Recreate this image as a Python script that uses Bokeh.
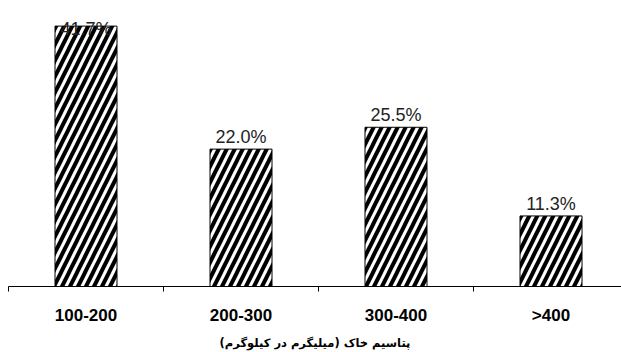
from bokeh.plotting import figure
from bokeh.models import Range1d, FixedTicker, ColumnDataSource
from bokeh.embed import file_html
from bokeh.resources import INLINE
from bokeh.core.properties import value

categories = ["100-200", "200-300", "300-400", ">400"]
percent = [41.7, 22.0, 25.5, 11.3]
label_text = ["41.7%", "22.0%", "25.5%", "11.3%"]
x_title = "پتاسیم خاک (میلیگرم در کیلوگرم)"

W, H = 621, 352
left, top = 8, 5
frame_h = 282
cat_px = 155.0
ymax = 45.0
ppu = frame_h / ymax

xs = list(range(len(categories)))
label_y = [min(v + 12 / ppu, 41.3) for v in percent]

src = ColumnDataSource(dict(x=xs, top=percent, ly=label_y, txt=label_text))

p = figure(width=W, height=H, output_backend="svg", toolbar_location=None,
           x_range=Range1d(-0.5, -0.5 + (W - left) / cat_px),
           y_range=Range1d(0, ymax),
           min_border_left=left, min_border_right=0, min_border_top=top,
           min_border_bottom=0)
p.outline_line_color = None
p.grid.visible = False
p.yaxis.visible = False
p.background_fill_color = "white"
p.border_fill_color = "white"

p.vbar(x="x", top="top", width=0.4, source=src, fill_color="white",
       line_color="black", line_width=1,
       hatch_pattern="/", hatch_color="black", hatch_weight=4, hatch_scale=16)

p.text(x="x", y="ly", text="txt", source=src, text_align="center",
       text_baseline="alphabetic", text_font=value("Liberation Sans"),
       text_font_size="18px", text_color="#222222")

ax = p.xaxis[0]
ax.ticker = FixedTicker(ticks=xs, minor_ticks=[i - 0.5 for i in range(len(categories) + 1)])
ax.major_label_overrides = {i: c for i, c in enumerate(categories)}
ax.major_tick_line_color = None
ax.major_tick_out = 0
ax.major_tick_in = 0
ax.minor_tick_line_color = "black"
ax.minor_tick_out = 5
ax.minor_tick_in = 0
ax.axis_line_color = "black"
ax.axis_line_width = 1
ax.major_label_standoff = 14
ax.major_label_text_font = "Liberation Sans"
ax.major_label_text_font_style = "bold"
ax.major_label_text_font_size = "17px"
ax.major_label_text_color = "black"
ax.axis_label = x_title
ax.axis_label_text_font = "DejaVu Sans"
ax.axis_label_text_font_style = "bold"
ax.axis_label_text_font_size = "11.5px"
ax.axis_label_standoff = 8
ax.axis_label_text_color = "black"

open("out.html", "w").write(file_html(p, INLINE))
